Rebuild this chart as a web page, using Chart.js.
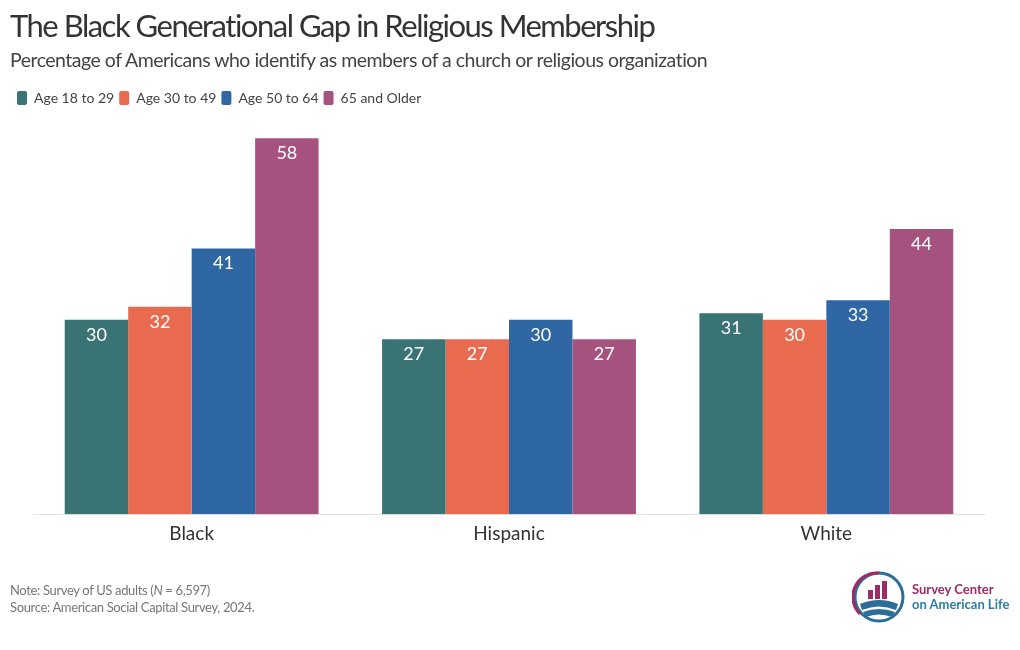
<!DOCTYPE html>
<html><head><meta charset="utf-8">
<script src="https://cdn.jsdelivr.net/npm/chart.js@4.4.1/dist/chart.umd.min.js"></script>
<style>
html,body{margin:0;padding:0;background:#fff;width:1020px;height:650px;overflow:hidden;font-family:Lato,"Open Sans",sans-serif;}
#wrap{position:absolute;left:0;top:0;width:1020px;height:650px;}
#title{position:absolute;left:10px;top:6px;font-size:31px;color:#333;letter-spacing:-1.5px;white-space:nowrap;}
#sub{position:absolute;left:10px;top:48px;font-size:19.5px;color:#444;white-space:nowrap;letter-spacing:-0.5px;}
#foot{position:absolute;left:10px;top:582px;font-size:13px;color:#777;line-height:17px;letter-spacing:-0.35px;}
#logo{position:absolute;left:852px;top:570px;}
</style></head>
<body>
<div id="wrap"><canvas id="c" width="1020" height="650"></canvas></div>
<div id="title">The Black Generational Gap in Religious Membership</div>
<div id="sub">Percentage of Americans who identify as members of a church or religious organization</div>
<div id="foot">Note: Survey of US adults (<i>N</i> = 6,597)<br>Source: American Social Capital Survey, 2024.</div>
<div id="logo">
<svg width="160" height="56" viewBox="0 0 160 56">
 <circle cx="27" cy="27" r="24" fill="none" stroke="#2b6f99" stroke-width="3"/>
 <path d="M27 3 A24 24 0 0 0 8 44" fill="none" stroke="#a02a63" stroke-width="3"/>
 <rect x="16" y="20" width="5" height="9" fill="#a02a63"/>
 <rect x="23" y="15" width="5" height="14" fill="#a02a63"/>
 <rect x="30" y="11" width="5" height="18" fill="#a02a63"/>
 <path d="M8 34 Q27 26 46 34 L44 40 Q27 33 10 40 Z" fill="#2b6f99"/>
 <path d="M11 42 Q27 36 43 42 L40 47 Q27 42 14 47 Z" fill="#2b6f99"/>
 <text x="60" y="24" font-family="Lato" font-weight="bold" font-size="13" fill="#a02a63">Survey Center</text>
 <text x="60" y="39" font-family="Lato" font-weight="bold" font-size="13" fill="#2b7ca8">on American Life</text>
</svg>
</div>
<script>
const categories = ["Black", "Hispanic", "White"];
const seriesNames = ["Age 18 to 29", "Age 30 to 49", "Age 50 to 64", "65 and Older"];
const age18to29 = [30, 27, 31];
const age30to49 = [32, 27, 30];
const age50to64 = [41, 30, 33];
const age65plus = [58, 27, 44];
const colors = ["#397373", "#e86b4f", "#2f67a5", "#a6527f"];
const seriesValues = [age18to29, age30to49, age50to64, age65plus];

const labelPlugin = {
  id: 'barLabels',
  afterDatasetsDraw(chart) {
    const ctx = chart.ctx;
    ctx.save();
    ctx.fillStyle = '#fff';
    ctx.font = '18px Lato, "Open Sans", sans-serif';
    ctx.textAlign = 'center';
    ctx.textBaseline = 'middle';
    chart.data.datasets.forEach((ds, i) => {
      const meta = chart.getDatasetMeta(i);
      meta.data.forEach((el, j) => {
        ctx.fillText(String(ds.data[j]), el.x, el.y + 15);
      });
    });
    ctx.restore();
  }
};

new Chart(document.getElementById('c'), {
  type: 'bar',
  data: {
    labels: categories,
    datasets: seriesValues.map((v, i) => ({
      label: seriesNames[i],
      data: v,
      backgroundColor: colors[i],
      borderWidth: 0,
      categoryPercentage: 0.8,
      barPercentage: 1.0
    }))
  },
  options: {
    responsive: false,
    animation: false,
    devicePixelRatio: 1,
    layout: { padding: { left: 12, right: 35, top: 86, bottom: 105 } },
    plugins: {
      legend: {
        position: 'top',
        align: 'start',
        labels: {
          boxWidth: 10,
          boxHeight: 14,
          useBorderRadius: true,
          borderRadius: 2,
          padding: 5,
          color: '#444',
          font: { family: 'Lato', size: 14 }
        }
      },
      tooltip: { enabled: false }
    },
    scales: {
      x: {
        grid: { display: false },
        border: { display: true, color: '#e3e3e3' },
        ticks: { color: '#333', font: { family: 'Lato', size: 19 }, padding: 0 }
      },
      y: {
        display: true,
        min: 0, max: 61.6,
        ticks: { display: false },
        grid: { display: false },
        border: { display: false },
        afterFit(scale) { scale.width = 21; }
      }
    }
  },
  plugins: [labelPlugin]
});
</script>
</body></html>
